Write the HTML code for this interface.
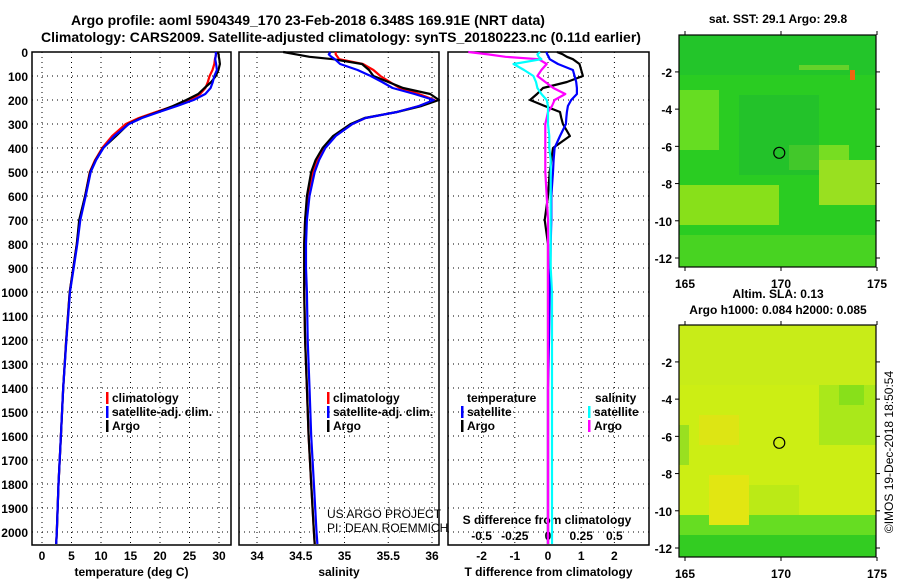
<!DOCTYPE html>
<html><head><meta charset="utf-8"><style>
html,body{margin:0;padding:0;background:#fff;}
svg{display:block;font-family:"Liberation Sans",sans-serif;}
.b{font-weight:bold;font-size:12px;}
.t{font-weight:bold;font-size:14px;}
</style></head><body>
<svg id="c" width="900" height="580" viewBox="0 0 900 580" xmlns="http://www.w3.org/2000/svg">
<text class="t" x="308" y="25" text-anchor="middle">Argo profile: aoml 5904349_170 23-Feb-2018 6.348S 169.91E (NRT data)</text>
<text class="t" x="341" y="42" text-anchor="middle">Climatology: CARS2009. Satellite-adjusted climatology: synTS_20180223.nc (0.11d earlier)</text>
<g id="p1"></g>
<g id="p2"></g>
<g id="p3"></g>
<g id="m1"></g>
<g id="m2"></g>
<text x="893" y="452" transform="rotate(-90 893 452)" text-anchor="middle" font-size="12">©IMOS 19-Dec-2018 18:50:54</text>
</svg>
<script>
const depths=[0,10,20,30,50,75,100,125,150,175,200,225,250,275,300,350,400,450,500,600,700,800,900,1000,1200,1400,1600,1800,2000,2050];
const climT=[29.5,29.5,29.4,29.3,29.2,28.9,28.4,28.1,27.7,26.8,25.0,22.3,19.3,16.4,14.2,11.9,10.2,9.0,8.1,7.3,6.4,5.9,5.3,4.7,4.1,3.6,3.2,2.8,2.5,2.4];
const satT=[29.45,29.48,29.42,29.35,29.5,29.65,29.2,28.95,28.57,27.67,25.7,22.9,19.87,16.95,14.74,12.26,10.4,9.17,8.25,7.4,6.5,5.98,5.37,4.75,4.13,3.6,3.2,2.8,2.5,2.4];
const argoT=[29.77,29.95,29.97,30.05,30.15,29.9,29.45,28.67,27.55,26.47,24.46,22.2,19.66,16.8,14.65,12.56,10.35,9.1,8.15,7.3,6.3,5.9,5.3,4.7,4.1,3.6,3.2,2.8,2.5,2.4];
const climS=[34.9,34.9,34.92,34.94,35.21,35.33,35.41,35.52,35.63,35.85,36.03,35.85,35.6,35.24,35.09,34.89,34.77,34.69,34.64,34.58,34.55,34.54,34.54,34.54,34.55,34.57,34.59,34.62,34.65,34.66];
const satS=[34.84,34.82,34.85,34.89,34.95,35.15,35.3,35.43,35.55,35.8,36.02,35.85,35.6,35.24,35.09,34.9,34.78,34.71,34.66,34.6,34.57,34.56,34.56,34.57,34.58,34.6,34.62,34.65,34.68,34.69];
const argoS=[34.3,34.45,34.6,34.87,35.2,35.28,35.33,35.5,35.67,35.98,36.08,35.88,35.6,35.23,35.07,34.87,34.75,34.67,34.62,34.57,34.55,34.54,34.54,34.54,34.55,34.57,34.59,34.62,34.65,34.66];
const depthTicks=[0,100,200,300,400,500,600,700,800,900,1000,1100,1200,1300,1400,1500,1600,1700,1800,1900,2000];
const tempTicks=[0,5,10,15,20,25,30];
const salTicks=[34,34.5,35,35.5,36];
const tdTicks=[-2,-1,0,1,2];
const sdTicks=[-0.5,-0.25,0,0.25,0.5];
const latTicks=[-2,-4,-6,-8,-10,-12];
const lonTicks=[165,170,175];
const floatLon=169.91, floatLat=-6.348;

const NS='http://www.w3.org/2000/svg';
function mk(tag,at,par){const e=document.createElementNS(NS,tag);for(const k in at)e.setAttribute(k,at[k]);par.appendChild(e);return e;}
const yD=d=>52+d*0.24;
const PT={x0:32,x1:231,f:v=>42+v*5.9};
const PS={x0:239,x1:439,f:v=>257+(v-34)*87.5};
const PD={x0:448,x1:649,f:v=>548+v*33.2,s:v=>548+v*132.8};
const TOP=52,BOT=545;

function panel(g,P,xt,xfmt,ylabels,title){
  xt.forEach(v=>{const l=mk('line',{x1:P.f(v),x2:P.f(v),y1:TOP,y2:BOT,stroke:'#000','stroke-dasharray':'1 4','stroke-width':1},g);
    
    const t=mk('text',{x:P.f(v),y:560,'text-anchor':'middle',class:'b'},g);t.textContent=xfmt(v);
    });
  depthTicks.forEach(d=>{const l=mk('line',{x1:P.x0,x2:P.x1,y1:yD(d),y2:yD(d),stroke:'#000','stroke-dasharray':'1 4','stroke-width':1},g);
    
    if(ylabels){const t=mk('text',{x:28,y:yD(d)+5,'text-anchor':'end',class:'b'},g);t.textContent=d;
      }});
  const r=mk('rect',{x:P.x0,y:TOP,width:P.x1-P.x0,height:BOT-TOP,fill:'none',stroke:'#000','stroke-width':1.5},g);
  
  const t=mk('text',{x:(P.x0+P.x1)/2,y:576,'text-anchor':'middle',class:'b'},g);t.textContent=title;
  
}
function line(g,vals,fx,color,name){
  const pts=vals.map((v,i)=>fx(v).toFixed(1)+','+yD(depths[i]).toFixed(1)).join(' ');
  const p=mk('polyline',{points:pts,fill:'none',stroke:color,'stroke-width':2.2,'stroke-linejoin':'round'},g);
  
}
function leg(g,x,y,color,label,name){
  const r=mk('rect',{x:x,y:y-10,width:2.5,height:12,fill:color},g);
  
  const t=mk('text',{x:x+6,y:y,class:'b'},g);t.textContent=label;
  
}
const g1=document.getElementById('p1'),g2=document.getElementById('p2'),g3=document.getElementById('p3');
panel(g1,PT,tempTicks,v=>v,true,'temperature (deg C)');
line(g1,climT,PT.f,'#f00','temp-climatology-line');
line(g1,argoT,PT.f,'#000','temp-argo-line');
line(g1,satT,PT.f,'#00f','temp-satellite-line');
leg(g1,106,402,'#f00','climatology','legend-climatology');
leg(g1,106,416,'#00f','satellite-adj. clim.','legend-satellite');
leg(g1,106,430,'#000','Argo','legend-argo');

panel(g2,PS,salTicks,v=>v,false,'salinity');
line(g2,climS,PS.f,'#f00','sal-climatology-line');
line(g2,argoS,PS.f,'#000','sal-argo-line');
line(g2,satS,PS.f,'#00f','sal-satellite-line');
leg(g2,327,402,'#f00','climatology','legend-climatology');
leg(g2,327,416,'#00f','satellite-adj. clim.','legend-satellite');
leg(g2,327,430,'#000','Argo','legend-argo');
[['US ARGO PROJECT',518],['PI: DEAN ROEMMICH',532]].forEach(([s,y])=>{const t=mk('text',{x:327,y:y,'font-size':12,fill:'#000'},g2);t.textContent=s;
  });

panel(g3,PD,tdTicks,v=>v,false,'T difference from climatology');
sdTicks.forEach(v=>{const t=mk('text',{x:PD.s(v),y:540,'text-anchor':'middle',class:'b'},g3);t.textContent=v;
  });
{const t=mk('text',{x:547,y:524,'text-anchor':'middle',class:'b'},g3);t.textContent='S difference from climatology';
 }
line(g3,argoT.map((v,i)=>v-climT[i]),PD.f,'#000','t-diff-argo-line');
line(g3,satT.map((v,i)=>v-climT[i]),PD.f,'#00f','t-diff-satellite-line');
line(g3,argoS.map((v,i)=>v-climS[i]),PD.s,'#f0f','s-diff-argo-line');
line(g3,satS.map((v,i)=>v-climS[i]),PD.s,'#0ff','s-diff-satellite-line');
{const t=mk('text',{x:467,y:402,class:'b'},g3);t.textContent='temperature';
 const u=mk('text',{x:595,y:402,class:'b'},g3);u.textContent='salinity';}
leg(g3,461,416,'#00f','satellite','legend-t-satellite');
leg(g3,461,430,'#000','Argo','legend-t-argo');
leg(g3,588,416,'#0ff','satellite','legend-s-satellite');
leg(g3,588,430,'#f0f','Argo','legend-s-argo');

function map(gid,y0,y1,base,patches,titles){
  const g=document.getElementById(gid);
  const X0=679,X1=876;
  const fx=lon=>685+(lon-165)*19.2, fy=lat=>y0+9+(-lat-0.5)*((y1-y0-18)/11.5);
  const cp=mk('clipPath',{id:gid+'c'},g);mk('rect',{x:X0,y:y0,width:X1-X0,height:y1-y0},cp);
  const f=mk('g',{'clip-path':'url(#'+gid+'c)'},g);
  const bg=mk('rect',{x:X0,y:y0,width:X1-X0,height:y1-y0,fill:base},f);
  
  patches.forEach(p=>{const e=mk('rect',{x:X0+p[0],y:y0+p[1],width:p[2],height:p[3],fill:p[4],opacity:p[5]||1},f);
    });
  const c=mk('circle',{cx:fx(floatLon),cy:fy(floatLat),r:5.5,fill:'none',stroke:'#000','stroke-width':1.2},g);
  
  const r=mk('rect',{x:X0,y:y0,width:X1-X0,height:y1-y0,fill:'none',stroke:'#000','stroke-width':1.2},g);
  
  latTicks.forEach(v=>{const t=mk('text',{x:672,y:fy(v)+5,'text-anchor':'end',class:'b'},g);t.textContent=v;
    
    mk('line',{x1:X0,x2:X0-4,y1:fy(v),y2:fy(v),stroke:'#000'},g);mk('line',{x1:X1,x2:X1+4,y1:fy(v),y2:fy(v),stroke:'#000'},g);});
  lonTicks.forEach(v=>{const t=mk('text',{x:fx(v),y:y1+21,'text-anchor':'middle',class:'b'},g);t.textContent=v;
    
    mk('line',{x1:fx(v),x2:fx(v),y1:y0,y2:y0-4,stroke:'#000'},g);mk('line',{x1:fx(v),x2:fx(v),y1:y1,y2:y1+4,stroke:'#000'},g);});
  titles.forEach(([s,y])=>{const t=mk('text',{x:778,y:y,'text-anchor':'middle',class:'b'},g);t.textContent=s;
    });
}
map('m1',35,267,'#2acc22',[
 [0,55,40,60,'#66dd22'],[0,150,100,40,'#88e01a'],[110,110,60,25,'#77dd22'],[140,125,57,45,'#99e020'],
 [120,30,50,5,'#ccee22'],[0,0,197,40,'#1fc030',0.6],[60,60,80,80,'#20bb30',0.6],[171,35,5,10,'#ee6611'],[0,200,197,32,'#55d522',0.7]
],[['sat. SST: 29.1 Argo: 29.8',23]]);
map('m2',325,557,'#ccee14',[
 [140,40,57,80,'#aae81a'],[160,50,25,30,'#88e01a'],[0,0,197,60,'#c8ec18'],[0,190,197,42,'#66dd22'],[0,210,197,22,'#33cc22'],
 [20,90,40,30,'#dde514'],[0,100,10,40,'#99e020'],[70,160,50,30,'#bbea16'],[30,150,40,50,'#e2e612']
],[['Altim. SLA: 0.13',298],['Argo h1000: 0.084 h2000: 0.085',314]]);
</script>
</body></html>
